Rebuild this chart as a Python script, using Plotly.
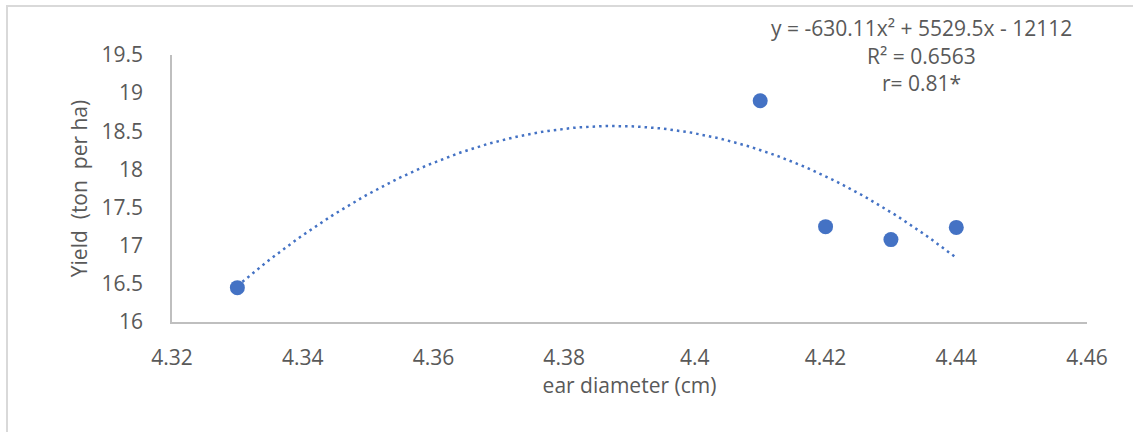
import numpy as np
import plotly.graph_objects as go

# Data
ear_diameter = [4.33, 4.41, 4.42, 4.43, 4.44]
yield_t_ha = [16.45, 18.9, 17.25, 17.08, 17.24]

x_ticks = [4.32, 4.34, 4.36, 4.38, 4.40, 4.42, 4.44, 4.46]
x_tick_labels = ["4.32", "4.34", "4.36", "4.38", "4.4", "4.42", "4.44", "4.46"]
y_ticks = [16, 16.5, 17, 17.5, 18, 18.5, 19, 19.5]
y_tick_labels = ["16", "16.5", "17", "17.5", "18", "18.5", "19", "19.5"]

eq_lines = ["y = -630.11x² + 5529.5x - 12112", "R² = 0.6563", "r= 0.81*"]

# Polynomial (order 2) trendline from the data
coef = np.polyfit(ear_diameter, yield_t_ha, 2)
xt = np.linspace(min(ear_diameter), max(ear_diameter), 200)
yt = np.polyval(coef, xt)

BLUE = "#4472C4"
GREY = "#595959"
FONT = "Open Sans"
FS = 21

fig = go.Figure()
fig.add_trace(go.Scatter(x=xt, y=yt, mode="lines",
                         line=dict(color=BLUE, width=2.5, dash="2.5px,4px"),
                         hoverinfo="skip", showlegend=False))
fig.add_trace(go.Scatter(x=ear_diameter, y=yield_t_ha, mode="markers",
                         marker=dict(color=BLUE, size=15),
                         showlegend=False))

fig.update_layout(
    width=1133, height=432,
    margin=dict(l=172, r=46, t=55, b=110),
    paper_bgcolor="white", plot_bgcolor="white",
    font=dict(family=FONT, size=FS, color=GREY),
)
fig.update_xaxes(range=[4.32, 4.46], tickvals=x_ticks, ticktext=x_tick_labels,
                 showgrid=False, zeroline=False, showline=True,
                 linecolor="#BFBFBF", linewidth=1.5, ticks="",
                 ticklabelstandoff=16,
                 tickfont=dict(family=FONT, size=FS, color=GREY),
                 title=dict(text="ear diameter (cm)", standoff=0,
                            font=dict(family=FONT, size=FS, color=GREY)))
fig.update_yaxes(range=[16, 19.5], tickvals=y_ticks, ticktext=y_tick_labels,
                 showgrid=False, zeroline=False, showline=True,
                 linecolor="#BFBFBF", linewidth=1.5, ticks="",
                 ticklabelstandoff=23,
                 tickfont=dict(family=FONT, size=FS, color=GREY),
                 title=dict(text="Yield  (ton  per ha)", standoff=8,
                            font=dict(family=FONT, size=FS, color=GREY)))

# outer chart frame
fig.add_shape(type="rect", xref="paper", yref="paper",
              x0=(7 - 172) / 915, x1=1.2, y0=-0.6, y1=(322 - 6) / 267,
              line=dict(color="#D9D9D9", width=2), fillcolor="rgba(0,0,0,0)",
              layer="below")

for i, t in enumerate(eq_lines):
    fig.add_annotation(x=(921 - 172) / 915, y=(322 - (28 + 27.5 * i)) / 267,
                       xref="paper", yref="paper", text=t, showarrow=False,
                       xanchor="center", yanchor="middle",
                       font=dict(family=FONT, size=FS, color=GREY))

fig.write_html("out.html")
